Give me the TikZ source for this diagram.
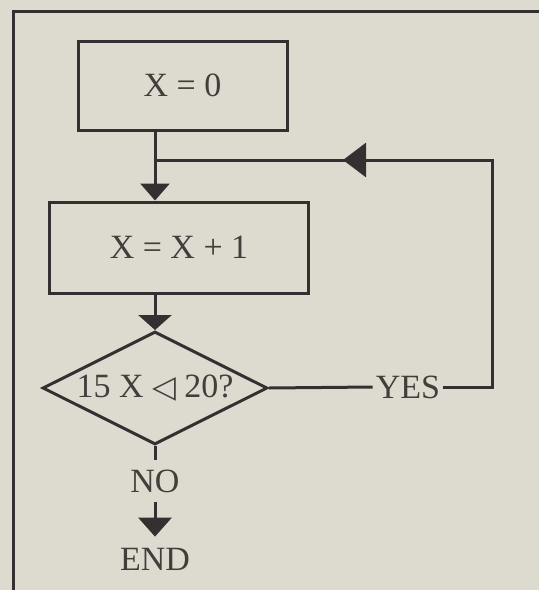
\documentclass[tikz,border=0pt]{standalone}
\usepackage{fontspec}
\setmainfont{Liberation Serif}
\newfontfamily\symfont{DejaVu Sans}
\usetikzlibrary{shapes.geometric,arrows.meta}
\definecolor{paper}{RGB}{221,219,208}
\definecolor{ink}{RGB}{52,48,50}
\definecolor{txt}{RGB}{66,62,60}
\tikzset{
  flowbox/.style={draw=ink, line width=3pt, rectangle, inner sep=0pt, text=txt},
  decision/.style={draw=ink, line width=3pt, diamond, aspect=2, inner sep=0pt, text=txt,
    minimum width=225pt, minimum height=113pt},
  lbl/.style={inner xsep=3pt, inner ysep=9pt, text=txt},
  conn/.style={draw=ink, line width=3pt},
  tipsmall/.style={-{Triangle[length=17pt,width=29pt]}},
  tipbig/.style={-{Triangle[length=23pt,width=34pt]}},
  frame/.style={draw=ink, line width=3pt}
}
\begin{document}
\begin{tikzpicture}[x=1pt,y=-1pt,font=\fontsize{34}{40}\selectfont]
\fill[paper] (0,0) rectangle (539,590);
\useasboundingbox (0,0) rectangle (539,590);
\draw[frame] (13,590) -- (13,11) -- (539,11);
\node[flowbox, minimum width=209pt, minimum height=89pt] (box1) at (182.5,85.5) {X = 0};
\node[flowbox, minimum width=259pt, minimum height=91pt] (box2) at (179,247.5) {X = X + 1};
\node[decision] (dia) at (155,388) {15 X {\symfont\fontsize{31}{31}\selectfont ◁} 20?};
\node[lbl] (yes) at (408,387) {YES};
\node[lbl] (no) at (155,481) {NO};
\node[lbl, inner ysep=11pt] (end) at (155,559) {END};
\coordinate (J) at (155,160);
\coordinate (C1) at (492,160);
\coordinate (C2) at (492,387);
\coordinate (loopTip) at (343,160);
\draw[conn, tipsmall] (box1.south -| dia.north) -- (box2.north -| dia.north);
\draw[conn] (yes.east) -- (C2) -- (C1) -- (J);
\draw[conn, tipbig] (C1) -- (loopTip);
\draw[conn, -{Triangle[length=15pt,width=33pt]}] (box2.south -| dia.north) -- (dia.north);
\draw[conn] (dia.east) -- (yes.west);
\draw[conn] (dia.south) -- (no.north);
\draw[conn, -{Triangle[length=19pt,width=33pt]}] (no.south) -- (end.north);
\end{tikzpicture}
\end{document}
